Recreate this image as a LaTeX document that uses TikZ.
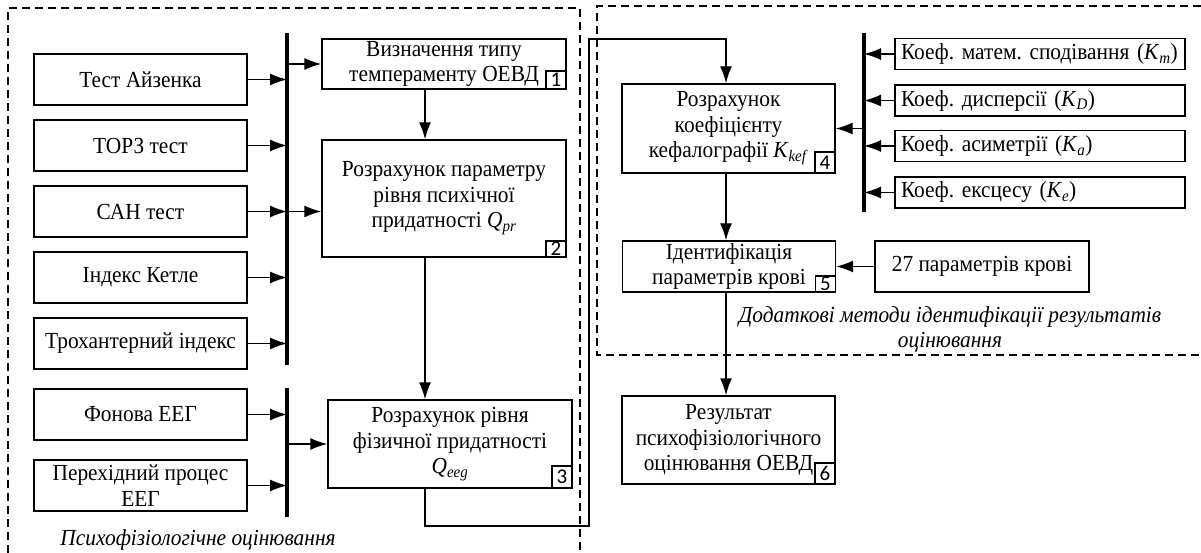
\documentclass[tikz,border=0pt]{standalone}
\usepackage{fontspec}
\setmainfont{Liberation Serif}[FakeStretch=0.93]
\newfontfamily\numfont{Carlito}
\usetikzlibrary{arrows.meta,calc}
\newcommand{\Vv}[2]{\textit{#1}\textsubscript{\textit{#2}}}
\frenchspacing
\begin{document}
\begin{tikzpicture}[x=1pt,y=-1pt,
  txt/.style={font=\fontsize{23}{25.5}\selectfont\frenchspacing},
  box/.style={draw, line width=1.4pt, inner sep=0pt, align=center, txt},
  inbox/.style={box, minimum width=213pt, minimum height=51pt},
  mbox/.style={box, minimum width=244pt},
  rbox/.style={box, minimum width=213pt},
  kbox/.style={draw, line width=1.4pt, inner ysep=0pt, inner xsep=6pt, text width=278pt, align=left, minimum height=31pt, txt},
  numbox/.style={draw, line width=1.4pt, inner sep=0pt, minimum width=20pt, anchor=south east, font=\numfont\fontsize{21}{21}\selectfont},
  bus/.style={line width=3.6pt},
  arr/.style={line width=1.4pt, -{Latex[length=17pt,width=12pt]}},
  frame/.style={line width=1.3pt, dash pattern=on 8pt off 5pt},
  lab/.style={font=\fontsize{23}{25.5}\selectfont\itshape, align=center}]
\useasboundingbox (0,0) rectangle (1201,553);
\fill[white] (0,0) rectangle (1201,553);

% dashed frames
\draw[frame] (8,553) -- (8,8) -- (580,8) -- (580,553);
\draw[frame] (1201,6) -- (597,6) -- (597,355) -- (1201,355);

% left inputs
\node[inbox] (in1) at (140.5,79.5) {Тест Айзенка};
\node[inbox] (in2) at (140.5,145.5) {ТОРЗ тест};
\node[inbox] (in3) at (140.5,211.5) {САН тест};
\node[inbox] (in4) at (140.5,277.5) {Індекс Кетле};
\node[inbox] (in5) at (140.5,343.5) {Трохантерний індекс};
\node[inbox] (in6) at (140.5,414.5) {Фонова ЕЕГ};
\node[inbox] (in7) at (140.5,485.5) {Перехідний процес\\ЕЕГ};

% buses
\coordinate (bus1t) at (287,33);
\coordinate (bus1b) at (287,365);
\coordinate (bus2t) at (287,388);
\coordinate (bus2b) at (287,517);
\coordinate (bus3t) at (864,33);
\coordinate (bus3b) at (864,212);
\draw[bus] (bus1t) -- (bus1b);
\draw[bus] (bus2t) -- (bus2b);
\draw[bus] (bus3t) -- (bus3b);

% main blocks
\node[mbox, minimum height=50pt] (b1) at (444,64) {Визначення типу\\темпераменту ОЕВД};
\node[mbox, minimum height=117pt] (b2) at (444,198.5) {Розрахунок параметру\\рівня психічної\\придатності \Vv{Q}{pr}};
\node[mbox, minimum height=88pt] (b3) at (450,444) {Розрахунок рівня\\фізичної придатності\\\Vv{Q}{eeg}};
\node[rbox, minimum height=89pt] (b4) at (728.5,128.5) {Розрахунок\\коефіцієнту\\кефалографії \Vv{K}{kef}};
\node[rbox, minimum height=51pt] (b5) at (729,266.5) {Ідентифікація\\параметрів крові};
\node[rbox, minimum height=88pt] (b6) at (728.5,440) {Результат\\психофізіологічного\\оцінювання ОЕВД};

% coefficient inputs
\node[kbox] (km) at (1040,54) {Коеф. матем. сподівання (\Vv{K}{m})};
\node[kbox] (kd) at (1040,100.5) {Коеф. дисперсії (\Vv{K}{D})};
\node[kbox] (ka) at (1040,146) {Коеф. асиметрії (\Vv{K}{a})};
\node[kbox] (ke) at (1040,192.5) {Коеф. ексцесу (\Vv{K}{e})};
\node[box, minimum width=214pt, minimum height=51pt] (r27) at (982,266.5) {27 параметрів крові};

% number tags
\node[numbox, minimum height=18pt] (n1) at (b1.south east) {1};
\node[numbox, minimum height=16pt] (n2) at (b2.south east) {2};
\node[numbox, minimum height=22pt] (n3) at (b3.south east) {3};
\node[numbox, minimum height=21pt] (n4) at (b4.south east) {4};
\node[numbox, minimum height=16pt] (n5) at (b5.south east) {5};
\node[numbox, minimum height=21pt] (n6) at (b6.south east) {6};

% connectors: inputs to buses
\foreach \n in {in1,in2,in3,in4,in5}
  \draw[arr] (\n.east) -- (\n.east -| bus1t);
\foreach \n in {in6,in7}
  \draw[arr] (\n.east) -- (\n.east -| bus2t);
\draw[arr] (bus1t |- b1.west) -- (b1.west);
\draw[arr] (bus1t |- in3.east) -- (in3.east -| b2.west);
\draw[arr] (bus2t |- b3.west) -- (b3.west);

% vertical flow
\coordinate (colL) at (425,0);
\coordinate (colR) at (726,0);
\draw[arr] (b1.south -| colL) -- (b2.north -| colL);
\draw[arr] (b2.south -| colL) -- (b3.north -| colL);
\coordinate (fbB) at (589,526);
\coordinate (fbT) at (589,39);
\draw[arr] (b3.south -| colL) |- (fbB) -- (fbT) -| (b4.north -| colR);
\draw[arr] (b4.south -| colR) -- (b5.north -| colR);
\draw[arr] (b5.south -| colR) -- (b6.north -| colR);

% coefficients to bus 3
\foreach \n in {km,kd,ka,ke}
  \draw[arr] (\n.west) -- (\n.west -| bus3t);
\draw[arr] (bus3t |- b4.east) -- (b4.east);
\draw[arr] (r27.west) -- (b5.east);

% labels
\node[lab] (labL) at (198,540) {Психофізіологічне оцінювання};
\node[lab] (labR) at (950,329.5) {Додаткові методи ідентифікації результатів\\оцінювання};
\end{tikzpicture}
\end{document}
